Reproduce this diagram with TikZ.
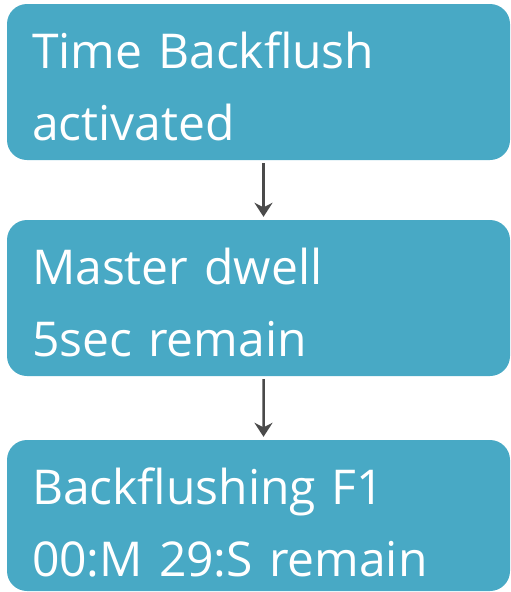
\documentclass[tikz,border=0pt]{standalone}
\usepackage{fontspec}
\setmainfont{Open Sans}[WordSpace=0.7]
\usetikzlibrary{positioning,arrows.meta,trees}
\definecolor{stagefill}{RGB}{72,169,197}
\definecolor{flowgray}{RGB}{74,74,74}
\tikzset {
    stage box/.style={
        fill=stagefill,
        draw=none,
        rectangle, % Set the shape as a rectangle
        rounded corners=20pt,
        text=white,
        text width=453pt,
        align=left,
        inner xsep=25pt,
        inner ysep=0pt,
        text height=64pt,
        text depth=92pt,
        font=\fontsize{48}{72}\selectfont,
    },
    stage end/.style={
        stage box,
        text depth=87pt,
    },
}

\begin{document}
\begin{tikzpicture}
        [grow=down, edge from parent/.style={draw=flowgray, line width=2.5pt,
            -{Stealth[length=14pt,width=18pt]}, shorten <=3pt, shorten >=3pt},
        edge from parent path={([xshift=5pt]\tikzparentnode.south) -- ([xshift=5pt]\tikzchildnode.north)},
        level 1/.style={level distance=216pt},
        level 2/.style={level distance=217.5pt}]

        \useasboundingbox (0,0) rectangle (511pt,-592pt);

        \node[stage box] (tb) at (258.5pt,-82pt) {Time Backflush\\activated}

        child {
            node[stage box] (md) {Master dwell\\5sec remain}
            child {
                node[stage end] (bf) {Backflushing F1\\00:M 29:S remain}
            }
        };

    \end{tikzpicture}
\end{document}
